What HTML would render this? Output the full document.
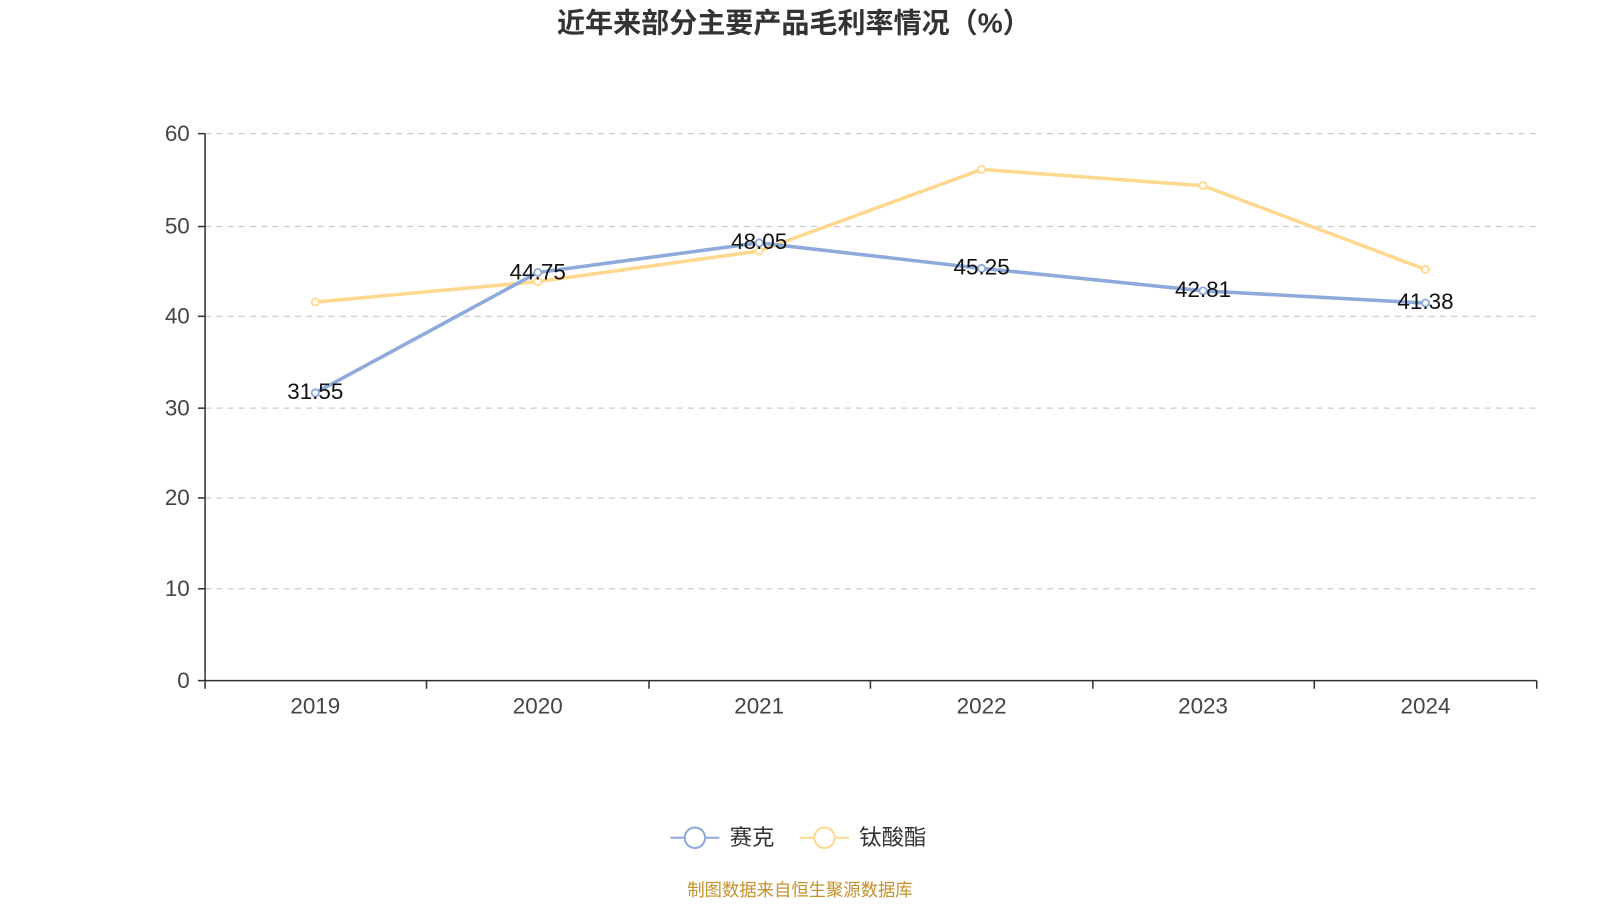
<!DOCTYPE html>
<html><head><meta charset="utf-8"><style>
body{margin:0;background:#fff;overflow:hidden;}
text{font-family:"Liberation Sans","Noto Sans CJK SC",sans-serif;}
</style></head><body>
<svg width="1600" height="900" viewBox="0 0 1568 882" preserveAspectRatio="none" xmlns="http://www.w3.org/2000/svg">
<text x="778" y="32" text-anchor="middle" font-size="27.5" font-weight="bold" fill="#333">近年来部分主要产品毛利率情况（%）</text>
<g stroke="#ccc" stroke-dasharray="6,5" stroke-width="1.2">
<line x1="201" x2="1506" y1="131" y2="131"/><line x1="201" x2="1506" y1="222" y2="222"/>
<line x1="201" x2="1506" y1="310" y2="310"/><line x1="201" x2="1506" y1="400" y2="400"/>
<line x1="201" x2="1506" y1="488" y2="488"/><line x1="201" x2="1506" y1="577" y2="577"/>
</g>
<g stroke="#333" stroke-width="1.5">
<line x1="201" x2="201" y1="131" y2="667"/><line x1="201" x2="1506" y1="667" y2="667"/>
<line x1="194" x2="201" y1="131" y2="131"/><line x1="194" x2="201" y1="222" y2="222"/><line x1="194" x2="201" y1="310" y2="310"/><line x1="194" x2="201" y1="400" y2="400"/><line x1="194" x2="201" y1="488" y2="488"/><line x1="194" x2="201" y1="577" y2="577"/><line x1="194" x2="201" y1="667" y2="667"/>
<line x1="201" x2="201" y1="667" y2="675"/><line x1="418" x2="418" y1="667" y2="675"/><line x1="636" x2="636" y1="667" y2="675"/><line x1="853" x2="853" y1="667" y2="675"/><line x1="1071" x2="1071" y1="667" y2="675"/><line x1="1288" x2="1288" y1="667" y2="675"/><line x1="1506" x2="1506" y1="667" y2="675"/>
</g>
<g font-size="22" fill="#444" text-anchor="end">
<text x="186" y="138">60</text><text x="186" y="229">50</text><text x="186" y="317">40</text><text x="186" y="407">30</text><text x="186" y="495">20</text><text x="186" y="584">10</text><text x="186" y="674">0</text>
</g>
<g font-size="22" fill="#444" text-anchor="middle">
<text x="309" y="699">2019</text><text x="527" y="699">2020</text><text x="744" y="699">2021</text><text x="962" y="699">2022</text><text x="1179" y="699">2023</text><text x="1397" y="699">2024</text>
</g>
<polyline fill="none" stroke="#ffd88f" stroke-width="3.5" points="309,296 527,276 744,246 962,166 1179,182 1397,264"/>
<polyline fill="none" stroke="#8eaadb" stroke-width="3.5" points="309,385 527,267 744,238 962,263 1179,285 1397,297"/>
<g fill="#fff" stroke="#ffd88f" stroke-width="1.8">
<circle cx="309" cy="296" r="3.5"/><circle cx="527" cy="276" r="3.5"/><circle cx="744" cy="246" r="3.5"/><circle cx="962" cy="166" r="3.5"/><circle cx="1179" cy="182" r="3.5"/><circle cx="1397" cy="264" r="3.5"/>
</g>
<g fill="#fff" stroke="#8eaadb" stroke-width="1.8">
<circle cx="309" cy="385" r="3.5"/><circle cx="527" cy="267" r="3.5"/><circle cx="744" cy="238" r="3.5"/><circle cx="962" cy="263" r="3.5"/><circle cx="1179" cy="285" r="3.5"/><circle cx="1397" cy="297" r="3.5"/>
</g>
<g font-size="22" fill="#111" text-anchor="middle">
<text x="309" y="391">31.55</text><text x="527" y="274">44.75</text><text x="744" y="244">48.05</text><text x="962" y="269">45.25</text><text x="1179" y="291">42.81</text><text x="1397" y="303">41.38</text>
</g>
<line x1="657" x2="705" y1="821" y2="821" stroke="#8eaadb" stroke-width="2"/>
<circle cx="681" cy="821" r="10" fill="#fff" stroke="#8eaadb" stroke-width="2"/>
<text x="715" y="828" font-size="22" fill="#333">赛克</text>
<line x1="784" x2="832" y1="821" y2="821" stroke="#ffd88f" stroke-width="2"/>
<circle cx="808" cy="821" r="10" fill="#fff" stroke="#ffd88f" stroke-width="2"/>
<text x="842" y="828" font-size="22" fill="#333">钛酸酯</text>
<text x="784" y="878" text-anchor="middle" font-size="17" fill="#c8902a">制图数据来自恒生聚源数据库</text>
</svg>
</body></html>
